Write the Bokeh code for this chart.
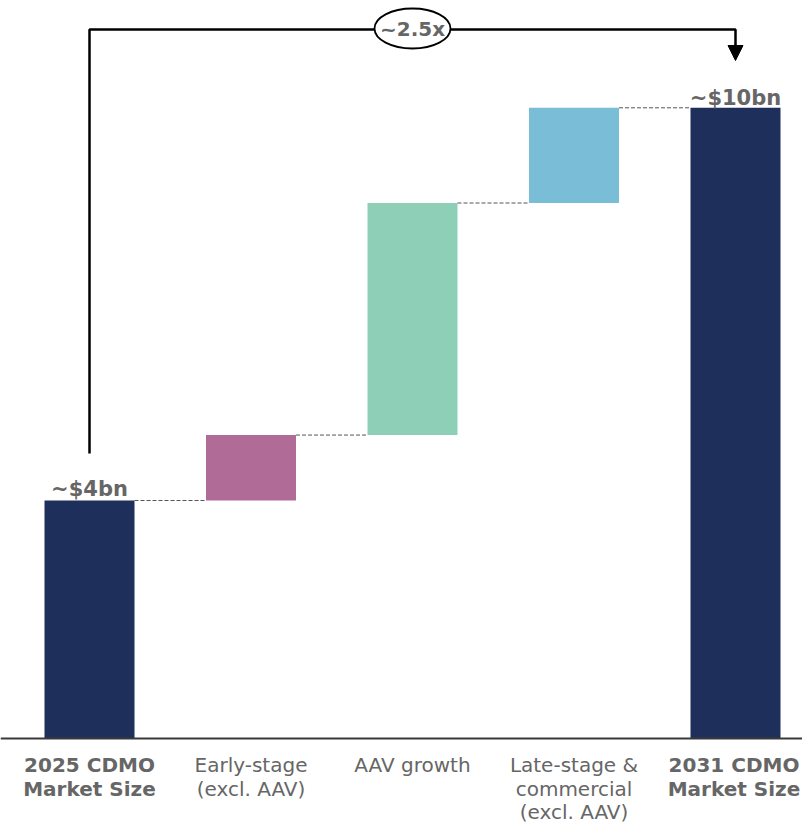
from bokeh.plotting import figure
from bokeh.models import Range1d, Span, Arrow, NormalHead, ColumnDataSource
from bokeh.core.properties import value
from bokeh.embed import file_html
from bokeh.resources import INLINE

# ---- data ----
categories = ["2025 CDMO\nMarket Size", "Early-stage\n(excl. AAV)", "AAV growth",
              "Late-stage &\ncommercial\n(excl. AAV)", "2031 CDMO\nMarket Size"]
start_value = 4.0          # ~$4bn
increments = [1.1, 3.9, 1.6]
end_value = 10.6           # ~$10bn
value_labels = ["~$4bn", "~$10bn"]
multiple_label = "~2.5x"
bold_flags = [True, False, False, False, True]
colors = ["#1F2F5B", "#B06C96", "#8DCFB7", "#7ABDD7", "#1F2F5B"]

# ---- layout helpers (screen pixel -> data) ----
W, H = 802, 824
OFF = 0
BASE_SY = 738.0
PPU = 59.5
X0 = 89.0
PPX = 161.5

def vy(sy):
    return (BASE_SY - sy) / PPU

def vx(sx):
    return (sx - X0) / PPX

FONT = "DejaVu Sans"
GREY = "#666666"

p = figure(width=W, height=H, output_backend="svg", toolbar_location=None,
           x_range=Range1d(vx(OFF), vx(OFF + W)), y_range=Range1d(vy(OFF + H), vy(OFF)),
           min_border=0, min_border_left=0, min_border_right=0,
           min_border_top=0, min_border_bottom=0)
p.xaxis.visible = False
p.yaxis.visible = False
p.xgrid.visible = False
p.ygrid.visible = False
p.outline_line_color = None
p.background_fill_color = "white"
p.border_fill_color = "white"

# waterfall geometry from data
bottoms, tops = [0.0], [start_value]
level = start_value
for inc in increments:
    bottoms.append(level)
    tops.append(level + inc)
    level += inc
bottoms.append(0.0)
tops.append(end_value)

xs = list(range(len(categories)))
bw = 90 / PPX
src = ColumnDataSource(dict(x=xs, bottom=bottoms, top=tops, color=colors))
p.vbar(x="x", bottom="bottom", top="top", width=bw, fill_color="color",
       line_color=None, source=src)

# dashed connectors
for i in range(len(xs) - 1):
    lvl = tops[i]
    p.segment(x0=xs[i] + bw / 2, y0=lvl, x1=xs[i + 1] - bw / 2, y1=lvl,
              line_color="#555555", line_dash="4 2", line_width=1)

# baseline
p.add_layout(Span(location=0, dimension="width", line_color="#3a3a3a", line_width=2))

# value labels
gap = 1.0 / PPU
p.text(x=[xs[0]], y=[tops[0] + 12 * gap], text=[value_labels[0]],
       text_align="center", text_baseline="alphabetic", text_font=value(FONT),
       text_font_style="bold", text_font_size="21px", text_color=GREY)
p.text(x=[xs[-1]], y=[tops[-1] + 10 * gap], text=[value_labels[1]],
       text_align="center", text_baseline="alphabetic", text_font=value(FONT),
       text_font_style="bold", text_font_size="21px", text_color=GREY)

# category labels (line by line)
line_sy = [764, 788, 811]
for i, cat in enumerate(categories):
    for j, ln in enumerate(cat.split("\n")):
        p.text(x=[xs[i] - (1.5 / PPX if i == len(xs) - 1 else 0)], y=[vy(line_sy[j])],
               text=[ln], text_align="center",
               text_baseline="alphabetic", text_font=value(FONT),
               text_font_style="bold" if bold_flags[i] else "normal",
               text_font_size="20px", text_color=GREY)

# bracket
top_y = vy(29)
p.line(x=[xs[0], xs[0], xs[-1], xs[-1]], y=[vy(453), top_y, top_y, vy(48)],
       line_color="black", line_width=2.5)
p.add_layout(Arrow(end=NormalHead(size=15, fill_color="black", line_color="black"),
                   x_start=xs[-1], y_start=vy(44), x_end=xs[-1], y_end=vy(60),
                   line_color="black", line_width=2.5))

# ellipse with multiple
ex, ey = vx(412), vy(28)
p.ellipse(x=[ex], y=[ey], width=76, height=40, width_units="screen", height_units="screen",
          fill_color="white", line_color="black", line_width=1.8)
p.text(x=[ex], y=[ey], text=[multiple_label], text_align="center", text_baseline="middle",
       text_font=value(FONT), text_font_style="bold", text_font_size="20px", text_color=GREY)

open("out.html", "w").write(file_html(p, INLINE))
